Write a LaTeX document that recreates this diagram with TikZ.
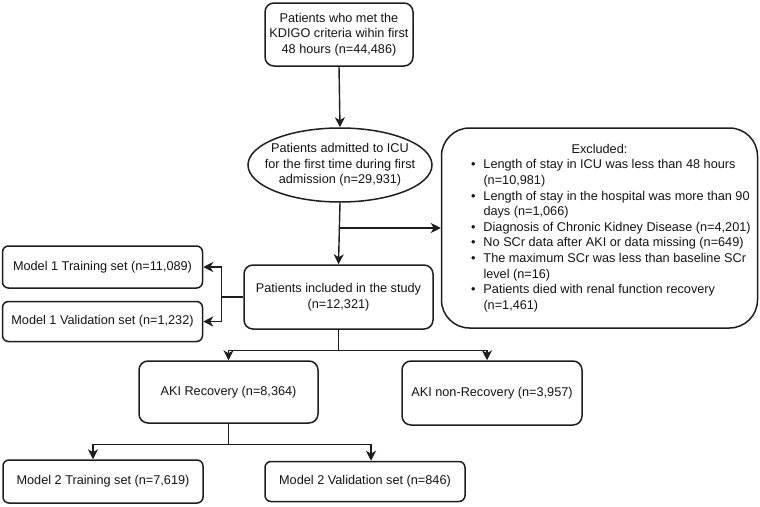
\documentclass[tikz,border=0pt]{standalone}
\usepackage{fontspec}
\setmainfont{Liberation Sans}
\usetikzlibrary{shapes.geometric,arrows.meta}
\definecolor{inkline}{RGB}{30, 30, 30}
\definecolor{inktext}{RGB}{20, 20, 20}
\newcommand{\exitem}[1]{\par\noindent\llap{\textbullet\hspace{8pt}}#1}

\begin{document}
\begin{tikzpicture}[x=1pt, y=-1pt,
    every node/.style={font=\fontsize{12.7}{15.5}\selectfont, text=inktext},
    box/.style={draw=inkline, line width=1.5pt, rounded corners=#1, align=center, inner sep=0pt},
    box/.default=7pt,
    ellbox/.style={draw=inkline, line width=1.5pt, ellipse, inner sep=0pt},
    link/.style={draw=inkline, line width=1.4pt, -{Stealth[length=10pt, width=10pt, inset=3pt]}},
    plain/.style={draw=inkline, line width=1.4pt}]
            \useasboundingbox (0,0) rectangle (760,506);
            % main column
            \node[box=9pt, minimum width=148pt, minimum height=63pt] (kdigo)  at (339.0, 34.5) {\fontsize{12.7}{16}\selectfont Patients who met the\\KDIGO criteria wihin first\\48 hours (n=44,486)};
            \node[ellbox,  minimum width=184pt, minimum height=74pt] (icu)    at (340.0,165.0) {};
            \node[align=center, inner sep=0pt]                       (icutxt) at (icu.center) {\fontsize{12.7}{14.5}\selectfont Patients admitted to ICU\\for the first time during first\\admission (n=29,931)};
            \node[box=9pt, minimum width=189pt, minimum height=64pt] (incl)   at (338.5,297.0) {\fontsize{12.7}{16}\selectfont Patients included in the study\\(n=12,321)};
            % excluded
            \node[box=28pt, minimum width=315pt, minimum height=200pt] (excl) at (599.5,228.0) {%
                \begin{minipage}{316pt}\fontsize{12.7}{15.6}\selectfont
                \centering Excluded:\par
                \raggedright\leftskip=42pt
                \exitem{Length of stay in ICU was less than 48 hours\\(n=10,981)}
                \exitem{Length of stay in the hospital was more than 90\\days (n=1,066)}
                \exitem{Diagnosis of Chronic Kidney Disease (n=4,201)}
                \exitem{No SCr data after AKI or data missing (n=649)}
                \exitem{The maximum SCr was less than baseline SCr\\level (n=16)}
                \exitem{Patients died with renal function recovery\\(n=1,461)}
                \end{minipage}};
            % model 1
            \node[box=6pt, minimum width=200pt, minimum height=42pt] (mtrainA) at (102.5,267.0) {Model 1 Training set (n=11,089)};
            \node[box=6pt, minimum width=200pt, minimum height=40pt] (mvalA)   at (102.5,321.5) {Model 1 Validation set (n=1,232)};
            % recovery
            \node[box=9pt, minimum width=179pt, minimum height=62pt] (recov)   at (228.5,392.0) {AKI Recovery (n=8,364)};
            \node[box=9pt, minimum width=180pt, minimum height=64pt] (nonrec)  at (492.0,393.0) {AKI non-Recovery (n=3,957)};
            % model 2
            \node[box=6pt, minimum width=200pt, minimum height=43pt] (mtrainB) at (103.0,481.5) {Model 2 Training set (n=7,619)};
            \node[box=6pt, minimum width=200pt, minimum height=40pt] (mvalB)   at (365.0,481.5) {Model 2 Validation set (n=846)};

            % connectors
            \draw[link]  (kdigo.south) -- (icu.north);
            \draw[link]  (icu.south) -- (incl.north);
            \coordinate (cut)    at (icu.south |- excl.west);
            \draw[link]  (cut) -- (excl.west);
            \draw[plain] (incl.west) -- ++(-22,0) coordinate (splitA);
            \draw[link]  (splitA) |- (mtrainA.east);
            \draw[link]  (splitA) |- (mvalA.east);
            \draw[plain] (incl.south) -- ++(0,21) coordinate (splitB);
            \draw[link]  (splitB) -| (recov.north);
            \draw[link]  (splitB) -| ([xshift=-5pt]nonrec.north);
            \draw[plain] (recov.south) -- ++(0,21) coordinate (splitC);
            \draw[link]  (splitC) -| ([xshift=-10pt]mtrainB.north);
            \draw[link]  (splitC) -| ([xshift=6pt]mvalB.north);
\end{tikzpicture}
\end{document}
